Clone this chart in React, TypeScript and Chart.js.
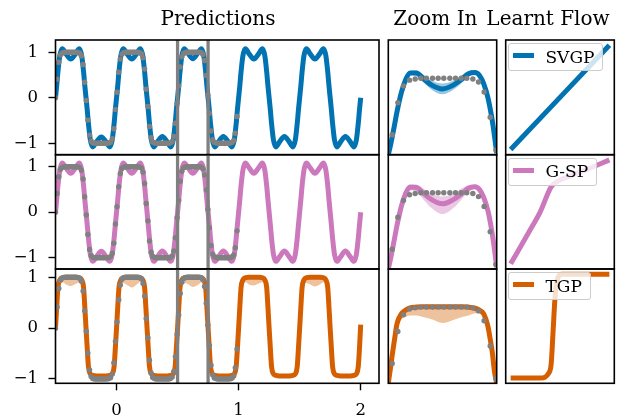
import React, { useEffect, useRef } from "react";
import { Chart, registerables } from "chart.js";

Chart.register(...registerables);

// ---------------- data ----------------
const titles = ["Predictions", "Zoom In", "Learnt Flow"];
const models = ["SVGP", "G-SP", "TGP"];
const predTicksX = [0, 1, 2];
const predTicksY = [-1, 0, 1];
const zoomWindow = [0.5, 0.75];

// observations (grey dots)
const obsX = [
  -0.5, -0.487, -0.473, -0.46, -0.447, -0.434, -0.42, -0.407, -0.394, -0.381,
  -0.367, -0.354, -0.341, -0.327, -0.314, -0.301, -0.288, -0.274, -0.261, -0.248,
  -0.235, -0.221, -0.208, -0.195, -0.181, -0.168, -0.155, -0.142, -0.128, -0.115,
  -0.102, -0.088, -0.075, -0.062, -0.049, -0.035, -0.022, -0.009, 0.004, 0.018,
  0.031, 0.044, 0.058, 0.071, 0.084, 0.097, 0.111, 0.124, 0.137, 0.15,
  0.164, 0.177, 0.19, 0.204, 0.217, 0.23, 0.243, 0.257, 0.27, 0.283,
  0.296, 0.31, 0.323, 0.336, 0.35, 0.363, 0.376, 0.389, 0.403, 0.416,
  0.429, 0.442, 0.456, 0.469, 0.482, 0.496, 0.509, 0.522, 0.535, 0.549,
  0.562, 0.575, 0.588, 0.602, 0.615, 0.628, 0.642, 0.655, 0.668, 0.681,
  0.695, 0.708, 0.721, 0.735, 0.748, 0.761, 0.774, 0.788, 0.801, 0.814,
  0.827, 0.841, 0.854, 0.867, 0.881, 0.894, 0.907, 0.92, 0.934, 0.947,
  0.96, 0.973, 0.987,
];
const obsY = [
  0, 0.41, 0.78, 0.94, 0.98, 0.995, 1, 1, 1, 1,
  1, 1, 1, 1, 0.993, 0.98, 0.92, 0.73, 0.34, -0.06,
  -0.49, -0.82, -0.95, -0.99, -1, -1, -1, -1, -1, -1,
  -1, -1, -0.998, -0.992, -0.975, -0.9, -0.68, -0.26, 0.12, 0.56,
  0.85, 0.96, 0.99, 1, 1, 1, 1, 1, 1, 1,
  1, 1, 0.99, 0.97, 0.88, 0.63, 0.19, -0.19, -0.63, -0.88,
  -0.97, -0.99, -1, -1, -1, -1, -1, -1, -1, -1,
  -1, -0.99, -0.96, -0.85, -0.56, -0.12, 0.26, 0.68, 0.9, 0.975,
  0.99, 1, 1, 1, 1, 1, 1, 1, 1, 1,
  0.99, 0.95, 0.82, 0.49, 0.06, -0.34, -0.73, -0.92, -0.98, -0.99,
  -1, -1, -1, -1, -1, -1, -1, -1, -0.995, -0.98,
  -0.94, -0.78, -0.41,
];

// predictive means on the prediction grid
const predX = [
  -0.5, -0.49, -0.48, -0.465, -0.445, -0.415, -0.375, -0.335, -0.305, -0.285, -0.27, -0.26,
  -0.25, -0.24, -0.23, -0.215, -0.195, -0.165, -0.125, -0.085, -0.055, -0.035, -0.02, -0.01,
  0, 0.01, 0.02, 0.035, 0.055, 0.085, 0.125, 0.165, 0.195, 0.215, 0.23, 0.24,
  0.25, 0.26, 0.27, 0.285, 0.305, 0.335, 0.375, 0.415, 0.445, 0.465, 0.48, 0.49,
  0.5, 0.51, 0.52, 0.535, 0.555, 0.585, 0.625, 0.665, 0.695, 0.715, 0.73, 0.74,
  0.75, 0.76, 0.77, 0.785, 0.805, 0.835, 0.875, 0.915, 0.945, 0.965, 0.98, 0.99,
  1, 1.01, 1.02, 1.035, 1.055, 1.085, 1.125, 1.165, 1.195, 1.215, 1.23, 1.24,
  1.25, 1.26, 1.27, 1.285, 1.305, 1.335, 1.375, 1.415, 1.445, 1.465, 1.48, 1.49,
  1.5, 1.51, 1.52, 1.535, 1.555, 1.585, 1.625, 1.665, 1.695, 1.715, 1.73, 1.74,
  1.75, 1.76, 1.77, 1.785, 1.805, 1.835, 1.875, 1.915, 1.945, 1.965, 1.98, 1.99,
  2,
];
const svgpMean = [
  0, 0.27, 0.57, 0.92, 1.08, 0.97, 0.85, 0.97, 1.08, 0.92, 0.57, 0.27,
  0, -0.27, -0.57, -0.92, -1.08, -0.97, -0.86, -0.97, -1.08, -0.92, -0.57, -0.27,
  0, 0.27, 0.57, 0.92, 1.08, 0.97, 0.85, 0.97, 1.08, 0.92, 0.57, 0.27,
  0, -0.27, -0.57, -0.92, -1.08, -0.97, -0.85, -0.97, -1.08, -0.92, -0.57, -0.27,
  0, 0.27, 0.57, 0.92, 1.08, 0.98, 0.86, 0.98, 1.08, 0.92, 0.57, 0.27,
  0, -0.27, -0.57, -0.92, -1.08, -0.97, -0.85, -0.97, -1.08, -0.92, -0.57, -0.27,
  0, 0.27, 0.57, 0.92, 1.08, 0.97, 0.85, 0.97, 1.08, 0.92, 0.57, 0.27,
  0, -0.27, -0.57, -0.92, -1.08, -0.97, -0.85, -0.97, -1.08, -0.92, -0.57, -0.27,
  0, 0.27, 0.57, 0.92, 1.08, 0.97, 0.85, 0.97, 1.08, 0.92, 0.57, 0.27,
  0, -0.27, -0.57, -0.92, -1.08, -0.97, -0.85, -0.97, -1.08, -0.92, -0.57, -0.27,
  0,
];
const gspMean = [
  0, 0.28, 0.58, 0.92, 1.08, 0.98, 0.855, 0.98, 1.08, 0.92, 0.58, 0.28,
  0, -0.28, -0.58, -0.92, -1.08, -0.98, -0.86, -0.98, -1.08, -0.92, -0.58, -0.28,
  0, 0.28, 0.58, 0.92, 1.08, 0.98, 0.855, 0.98, 1.08, 0.92, 0.58, 0.28,
  0, -0.28, -0.58, -0.92, -1.08, -0.98, -0.855, -0.98, -1.08, -0.92, -0.58, -0.28,
  0, 0.28, 0.58, 0.92, 1.08, 0.98, 0.855, 0.98, 1.08, 0.92, 0.58, 0.28,
  0, -0.28, -0.58, -0.92, -1.08, -0.98, -0.855, -0.98, -1.08, -0.92, -0.58, -0.28,
  0, 0.28, 0.58, 0.92, 1.08, 0.98, 0.855, 0.98, 1.08, 0.92, 0.58, 0.28,
  0, -0.28, -0.58, -0.92, -1.08, -0.98, -0.855, -0.98, -1.08, -0.92, -0.58, -0.28,
  0, 0.28, 0.58, 0.92, 1.08, 0.98, 0.855, 0.98, 1.08, 0.92, 0.58, 0.28,
  0, -0.28, -0.58, -0.92, -1.08, -0.98, -0.855, -0.98, -1.08, -0.92, -0.58, -0.28,
  0,
];
const tgpMean = [
  0, 0.42, 0.8, 0.95, 0.99, 1, 1, 1, 0.99, 0.95, 0.8, 0.42,
  0, -0.4, -0.76, -0.9, -0.93, -0.94, -0.94, -0.94, -0.93, -0.9, -0.76, -0.4,
  0, 0.42, 0.8, 0.95, 0.99, 1, 1, 1, 0.99, 0.95, 0.8, 0.42,
  0, -0.4, -0.76, -0.9, -0.93, -0.94, -0.94, -0.94, -0.93, -0.9, -0.76, -0.4,
  0, 0.42, 0.8, 0.95, 0.99, 1, 1, 1, 0.99, 0.95, 0.8, 0.42,
  0, -0.4, -0.76, -0.9, -0.93, -0.94, -0.94, -0.94, -0.93, -0.9, -0.76, -0.4,
  0, 0.42, 0.8, 0.95, 0.99, 1, 1, 1, 0.99, 0.95, 0.8, 0.42,
  0, -0.4, -0.76, -0.9, -0.93, -0.94, -0.94, -0.94, -0.93, -0.9, -0.76, -0.4,
  0, 0.42, 0.8, 0.95, 0.99, 1, 1, 1, 0.99, 0.95, 0.8, 0.42,
  0, -0.4, -0.76, -0.9, -0.93, -0.94, -0.94, -0.94, -0.93, -0.9, -0.76, -0.4,
  0.07,
];
const tgpLower = [
  0, 0.38, 0.74, 0.87, 0.9, 0.86, 0.83, 0.87, 0.9, 0.92, 0.76, 0.38,
  0, -0.41, -0.77, -0.91, -0.94, -0.95, -0.95, -0.95, -0.94, -0.91, -0.77, -0.41,
  0, 0.38, 0.74, 0.86, 0.89, 0.85, 0.8, 0.86, 0.91, 0.92, 0.76, 0.38,
  0, -0.41, -0.77, -0.91, -0.94, -0.95, -0.95, -0.95, -0.94, -0.91, -0.77, -0.41,
  0, 0.38, 0.74, 0.86, 0.89, 0.87, 0.81, 0.85, 0.9, 0.92, 0.76, 0.38,
  0, -0.41, -0.77, -0.91, -0.94, -0.95, -0.95, -0.95, -0.94, -0.91, -0.77, -0.41,
  0, 0.38, 0.74, 0.86, 0.9, 0.86, 0.84, 0.88, 0.9, 0.92, 0.76, 0.38,
  0, -0.41, -0.77, -0.91, -0.94, -0.95, -0.95, -0.95, -0.94, -0.91, -0.77, -0.41,
  0, 0.38, 0.74, 0.86, 0.89, 0.86, 0.82, 0.86, 0.9, 0.92, 0.76, 0.38,
  0, -0.41, -0.77, -0.91, -0.94, -0.95, -0.95, -0.95, -0.94, -0.91, -0.77, -0.41,
  0.06,
];
const tgpUpper = [
  0, 0.45, 0.84, 0.97, 1.01, 1.02, 1.02, 1.02, 1.01, 0.97, 0.84, 0.45,
  0, -0.39, -0.75, -0.89, -0.92, -0.93, -0.93, -0.93, -0.92, -0.89, -0.75, -0.39,
  0, 0.45, 0.84, 0.97, 1.01, 1.02, 1.02, 1.02, 1.01, 0.97, 0.84, 0.45,
  0, -0.39, -0.75, -0.89, -0.92, -0.93, -0.93, -0.93, -0.92, -0.89, -0.75, -0.39,
  0, 0.45, 0.84, 0.97, 1.01, 1.02, 1.02, 1.02, 1.01, 0.97, 0.84, 0.45,
  0, -0.39, -0.75, -0.89, -0.92, -0.93, -0.93, -0.93, -0.92, -0.89, -0.75, -0.39,
  0, 0.45, 0.84, 0.97, 1.01, 1.02, 1.02, 1.02, 1.01, 0.97, 0.84, 0.45,
  0, -0.39, -0.75, -0.89, -0.92, -0.93, -0.93, -0.93, -0.92, -0.89, -0.75, -0.39,
  0, 0.45, 0.84, 0.97, 1.01, 1.02, 1.02, 1.02, 1.01, 0.97, 0.84, 0.45,
  0, -0.39, -0.75, -0.89, -0.92, -0.93, -0.93, -0.93, -0.92, -0.89, -0.75, -0.39,
  0.08,
];

// zoomed window (0.5 .. 0.75)
const zoomX = [0.5, 0.505, 0.51, 0.515, 0.52, 0.53, 0.54, 0.55, 0.565, 0.58, 0.6, 0.625, 0.65, 0.67, 0.685, 0.7, 0.71, 0.72, 0.73, 0.735, 0.74, 0.745, 0.75];
const svgpZoomMean = [0, 0.12, 0.26, 0.41, 0.56, 0.81, 0.98, 1.07, 1.07, 1.0, 0.91, 0.86, 0.91, 0.99, 1.06, 1.075, 1.04, 0.93, 0.74, 0.6, 0.44, 0.24, 0.02];
const svgpZoomLower = [-0.01, 0.11, 0.25, 0.4, 0.55, 0.79, 0.95, 1.04, 1.03, 0.95, 0.85, 0.79, 0.85, 0.94, 1.02, 1.05, 1.02, 0.91, 0.73, 0.59, 0.43, 0.23, 0.01];
const svgpZoomUpper = [0.01, 0.13, 0.27, 0.42, 0.57, 0.83, 1.0, 1.09, 1.1, 1.05, 0.97, 0.93, 0.97, 1.04, 1.09, 1.1, 1.06, 0.95, 0.75, 0.61, 0.45, 0.25, 0.03];
const gspZoomMean = [0, 0.13, 0.27, 0.42, 0.57, 0.82, 0.99, 1.075, 1.07, 1.0, 0.91, 0.855, 0.91, 0.99, 1.06, 1.08, 1.045, 0.94, 0.76, 0.62, 0.45, 0.25, 0.02];
const gspZoomLower = [-0.01, 0.12, 0.26, 0.4, 0.55, 0.79, 0.95, 1.03, 1.01, 0.92, 0.8, 0.72, 0.8, 0.92, 1.01, 1.05, 1.02, 0.92, 0.75, 0.61, 0.44, 0.24, 0.01];
const gspZoomUpper = [0.01, 0.14, 0.28, 0.44, 0.59, 0.85, 1.02, 1.1, 1.11, 1.06, 0.99, 0.95, 0.99, 1.06, 1.1, 1.105, 1.07, 0.96, 0.77, 0.63, 0.46, 0.26, 0.03];
const tgpZoomMean = [0, 0.2, 0.41, 0.6, 0.78, 0.91, 0.96, 0.99, 1.0, 1.005, 1.005, 1.005, 1.005, 1.005, 1.0, 0.985, 0.96, 0.91, 0.74, 0.58, 0.4, 0.15, 0];
const tgpZoomLower = [0, 0.19, 0.39, 0.57, 0.72, 0.84, 0.87, 0.89, 0.89, 0.87, 0.84, 0.79, 0.83, 0.87, 0.89, 0.92, 0.93, 0.89, 0.73, 0.57, 0.39, 0.14, 0];
const tgpZoomUpper = [0, 0.21, 0.43, 0.63, 0.8, 0.93, 0.98, 1.01, 1.02, 1.025, 1.025, 1.025, 1.025, 1.025, 1.02, 1.005, 0.975, 0.92, 0.75, 0.59, 0.41, 0.16, 0];

// learnt flows (normalised input -> output)
const svgpFlowX = [0, 1];
const svgpFlowY = [0, 1];
const gspFlowX = [0, 0.2, 0.3, 0.41, 0.47, 0.6, 0.8, 1];
const gspFlowY = [0, 0.33, 0.5, 0.74, 0.79, 0.845, 0.92, 1];
const tgpFlowX = [0, 0.3, 0.35, 0.38, 0.41, 0.43, 0.45, 0.48, 0.52, 1];
const tgpFlowY = [0, 0, 0.01, 0.04, 0.13, 0.45, 0.78, 0.97, 1, 1];

// ---------------- styling / layout ----------------
const W = 626;
const H = 417;
const FONT = "'DejaVu Serif', serif";
const COLORS = ["#0173B2", "#CC78BC", "#D55E00"];
const BANDS = ["rgba(1,115,178,0.4)", "rgba(204,120,188,0.4)", "rgba(213,94,0,0.38)"];
const GREY = "#808080";
const COLS = [
  [55.5, 379],
  [388.3, 496.7],
  [505.7, 614.3],
];
const ROWS = [
  [40, 154.7],
  [154.7, 269],
  [269, 383.3],
];
const PRED_YLIM = [
  [-1.251, 1.27],
  [-1.248, 1.264],
  [-1.085, 1.163],
];
const PRED_XLIM = [-0.5, 2.15];
const ZOOM_YLIM = [0, 1.5];
const FLOW_LIM = [-0.05, 1.05];
const AXW = 50;
const AXH = 32;

const pts = (xs: number[], ys: number[]) => xs.map((x, i) => ({ x, y: ys[i] }));
const fmt = (v: number) => (v < 0 ? "\u2212" + Math.abs(v) : String(v));

const lineDs = (xs: number[], ys: number[], color: string) => ({
  data: pts(xs, ys),
  borderColor: color,
  borderWidth: 5,
  pointRadius: 0,
  fill: false,
  cubicInterpolationMode: "monotone",
  clip: 0,
  order: 2,
});
const bandDs = (xs: number[], lo: number[], hi: number[], color: string) => [
  { data: pts(xs, lo), borderWidth: 0, pointRadius: 0, fill: false, cubicInterpolationMode: "monotone", clip: 0, order: 3 },
  { data: pts(xs, hi), borderWidth: 0, pointRadius: 0, backgroundColor: color, fill: "-1", cubicInterpolationMode: "monotone", clip: 0, order: 3 },
];
const dotsDs = () => ({
  data: pts(obsX, obsY),
  showLine: false,
  pointRadius: 2.7,
  pointBorderWidth: 0,
  pointBackgroundColor: GREY,
  clip: 0,
  order: 1,
});
const vlineDs = (x: number, ylim: number[]) => ({
  data: [
    { x, y: ylim[0] },
    { x, y: ylim[1] },
  ],
  borderColor: GREY,
  borderWidth: 3.3,
  pointRadius: 0,
  clip: 0,
  order: 0,
});

const framePlugin = {
  id: "frame",
  afterDatasetsDraw(chart: any) {
    const { ctx, chartArea: a } = chart;
    ctx.save();
    ctx.strokeStyle = "#000";
    ctx.lineWidth = 1.6;
    ctx.strokeRect(a.left, a.top, a.right - a.left, a.bottom - a.top);
    ctx.restore();
  },
};

type Panel = {
  col: number;
  row: number;
  xlim: number[];
  ylim: number[];
  datasets: any[];
  yTicks?: number[];
  xTicks?: number[];
};

const panels: Panel[] = [];
const means = [svgpMean, gspMean, tgpMean];
const zoomMeans = [svgpZoomMean, gspZoomMean, tgpZoomMean];
const zoomLowers = [svgpZoomLower, gspZoomLower, tgpZoomLower];
const zoomUppers = [svgpZoomUpper, gspZoomUpper, tgpZoomUpper];
const flowsX = [svgpFlowX, gspFlowX, tgpFlowX];
const flowsY = [svgpFlowY, gspFlowY, tgpFlowY];

for (let r = 0; r < 3; r++) {
  const ylim = PRED_YLIM[r];
  const predSets: any[] = [
    vlineDs(zoomWindow[0], ylim),
    vlineDs(zoomWindow[1], ylim),
    dotsDs(),
    lineDs(predX, means[r], COLORS[r]),
  ];
  if (r === 2) predSets.push(...bandDs(predX, tgpLower, tgpUpper, BANDS[2]));
  panels.push({
    col: 0,
    row: r,
    xlim: PRED_XLIM,
    ylim,
    datasets: predSets,
    yTicks: predTicksY,
    xTicks: r === 2 ? predTicksX : undefined,
  });
  panels.push({
    col: 1,
    row: r,
    xlim: zoomWindow,
    ylim: ZOOM_YLIM,
    datasets: [dotsDs(), lineDs(zoomX, zoomMeans[r], COLORS[r]), ...bandDs(zoomX, zoomLowers[r], zoomUppers[r], BANDS[r])],
  });
  panels.push({
    col: 2,
    row: r,
    xlim: FLOW_LIM,
    ylim: FLOW_LIM,
    datasets: [lineDs(flowsX[r], flowsY[r], COLORS[r])],
  });
}

const tickFont = { family: FONT, size: 16.5 };
const tickGrid = { display: true, drawOnChartArea: false, drawTicks: true, tickLength: 7, tickWidth: 1.4, tickColor: "#000" };

function buildConfig(p: Panel): any {
  const [l, r] = COLS[p.col];
  const [t, b] = ROWS[p.row];
  const padding = {
    left: l - (p.yTicks ? AXW : 0),
    right: W - r,
    top: t,
    bottom: H - b - (p.xTicks ? AXH : 0),
  };
  const xScale: any = { type: "linear", min: p.xlim[0], max: p.xlim[1], display: false };
  const yScale: any = { type: "linear", min: p.ylim[0], max: p.ylim[1], display: false };
  if (p.yTicks) {
    const ticks = p.yTicks;
    Object.assign(yScale, {
      display: true,
      position: "left",
      border: { display: false },
      grid: tickGrid,
      ticks: { font: tickFont, color: "#000", padding: 10.5, autoSkip: false, maxRotation: 0, callback: (v: number) => fmt(v) },
      afterBuildTicks: (s: any) => {
        s.ticks = ticks.map((value) => ({ value }));
      },
      afterFit: (s: any) => {
        s.width = AXW;
        s.paddingTop = 0;
        s.paddingBottom = 0;
      },
    });
  }
  if (p.xTicks) {
    const ticks = p.xTicks;
    Object.assign(xScale, {
      display: true,
      position: "bottom",
      border: { display: false },
      grid: tickGrid,
      ticks: { font: tickFont, color: "#000", padding: 10.5, autoSkip: false, maxRotation: 0, callback: (v: number) => fmt(v) },
      afterBuildTicks: (s: any) => {
        s.ticks = ticks.map((value) => ({ value }));
      },
      afterFit: (s: any) => {
        s.height = AXH;
        s.paddingLeft = 0;
        s.paddingRight = 0;
      },
    });
  }
  return {
    type: "line",
    data: { datasets: p.datasets },
    options: {
      animation: false,
      responsive: false,
      maintainAspectRatio: false,
      devicePixelRatio: 1,
      events: [],
      layout: { autoPadding: false, padding },
      plugins: { legend: { display: false }, tooltip: { enabled: false }, title: { display: false } },
      scales: { x: xScale, y: yScale },
    },
    plugins: [framePlugin],
  };
}

const titleCenters = [218, 435.4, 548];

export default function App() {
  const refs = useRef<(HTMLCanvasElement | null)[]>([]);
  useEffect(() => {
    const charts = panels.map((p, i) => new Chart(refs.current[i] as HTMLCanvasElement, buildConfig(p)));
    return () => charts.forEach((c) => c.destroy());
  }, []);
  return (
    <div style={{ position: "absolute", left: 0, top: 0, width: W, height: H, background: "#fff", overflow: "hidden" }}>
      {panels.map((_, i) => (
        <canvas
          key={i}
          ref={(el) => {
            refs.current[i] = el;
          }}
          width={W}
          height={H}
          style={{ position: "absolute", left: 0, top: 0, width: W, height: H }}
        />
      ))}
      {titles.map((txt, i) => (
        <div
          key={txt}
          style={{
            position: "absolute",
            left: titleCenters[i],
            top: 8,
            transform: "translateX(-50%)",
            whiteSpace: "nowrap",
            fontFamily: FONT,
            fontSize: 20,
            lineHeight: "20px",
            color: "#000",
          }}
        >
          {txt}
        </div>
      ))}
      {models.map((m, i) => (
        <div
          key={m}
          style={{
            position: "absolute",
            left: COLS[2][0] + 2.5,
            top: ROWS[i][0] + 3,
            height: 28,
            boxSizing: "border-box",
            display: "flex",
            alignItems: "center",
            padding: "0 8px 0 4px",
            border: "1px solid #cccccc",
            borderRadius: 3,
            background: "rgba(255,255,255,0.8)",
          }}
        >
          <span style={{ display: "inline-block", width: 20.6, height: 5, background: COLORS[i], marginRight: 11.7, position: "relative", top: -1.5 }} />
          <span style={{ fontFamily: FONT, fontSize: 17, lineHeight: "17px", color: "#000", whiteSpace: "nowrap" }}>{m}</span>
        </div>
      ))}
    </div>
  );
}
